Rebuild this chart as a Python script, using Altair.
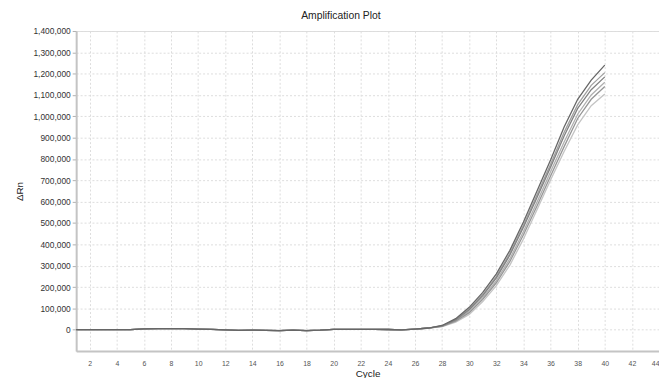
import altair as alt
import pandas as pd

# Cycle numbers
cycles = list(range(1, 41))

# Shared baseline (thousands of ΔRn), cycles 1-27
baseline = [0, 0, 0, 0, 0, 4, 5, 5, 5, 3, 2, -1, -3, -2, -3, -4, -2, -4, -2, 2, 2, 2, 2, 1, -1, 3, 8]

# Amplification phase (thousands), cycles 28-40, one list per well
s1 = [20, 52, 105, 175, 262, 372, 505, 650, 795, 950, 1080, 1170, 1240]
s2 = [19, 48, 98, 165, 250, 358, 490, 632, 776, 925, 1055, 1145, 1205]
s3 = [18, 46, 94, 160, 243, 350, 480, 620, 762, 908, 1037, 1125, 1185]
s4 = [17, 42, 86, 150, 230, 333, 460, 598, 740, 880, 1010, 1100, 1160]
s5 = [16, 40, 80, 142, 220, 320, 445, 580, 720, 858, 990, 1080, 1140]
s6 = [15, 36, 72, 132, 207, 303, 425, 562, 702, 835, 960, 1050, 1105]

series = {"W6": s6, "W4": s4, "W5": s5, "W2": s2, "W3": s3, "W1": s1}
series_colors = {"W6": "#c4c4c4", "W4": "#b0b0b0", "W5": "#969696",
                 "W2": "#a0a0a0", "W3": "#828282", "W1": "#666666"}

y_ticks = list(range(0, 1400001, 100000))
x_ticks = list(range(2, 45, 2))

rows = []
for order, (name, tail) in enumerate(series.items()):
    vals = baseline + tail
    for c, v in zip(cycles, vals):
        rows.append({"Cycle": c, "dRn": v * 1000, "Well": name, "order": order})
df = pd.DataFrame(rows)

chart = alt.Chart(df).mark_line(strokeWidth=1.3).encode(
    x=alt.X("Cycle:Q",
            scale=alt.Scale(domain=[1, 44], nice=False, zero=False),
            axis=alt.Axis(values=x_ticks, title="Cycle", labelFontSize=7,
                          labelColor="#555555", tickSize=0, labelPadding=9,
                          titleFontSize=10, titleFont="Liberation Sans",
                          titleFontWeight="normal", titlePadding=2,
                          titleColor="#222222", labelFont="Liberation Sans",
                          domainColor="#c4c4c4", domainWidth=2,
                          gridColor="#dcdcdc", gridDash=[2, 2], gridWidth=1)),
    y=alt.Y("dRn:Q",
            scale=alt.Scale(domain=[-100000, 1400000], nice=False, zero=False),
            axis=alt.Axis(values=y_ticks, format=",d", title="ΔRn",
                          labelFontSize=8.5, labelColor="#333333",
                          labelFont="Liberation Sans", tickSize=4,
                          tickColor="#b0b0b0", labelPadding=2,
                          titleFontSize=10, titleFont="Liberation Sans",
                          titleFontWeight="normal", titlePadding=8,
                          titleColor="#222222",
                          domainColor="#c4c4c4", domainWidth=2,
                          gridColor="#dcdcdc", gridDash=[2, 2], gridWidth=1)),
    color=alt.Color("Well:N",
                    scale=alt.Scale(domain=list(series_colors.keys()),
                                    range=list(series_colors.values())),
                    legend=None),
    detail="Well:N",
    order="order:Q",
).properties(
    width=590,
    height=324,
    title=alt.TitleParams("Amplification Plot", fontSize=10.5, font="Liberation Sans",
                          fontWeight="normal", color="#222222", anchor="middle",
                          dx=-27, offset=6),
    autosize=alt.AutoSizeParams(type="none"),
    padding={"left": 69, "top": 21, "right": 0, "bottom": 25},
).configure_view(strokeWidth=0).configure(background="white")

chart.save("out.html", embed_options={"renderer": "svg", "actions": False})
